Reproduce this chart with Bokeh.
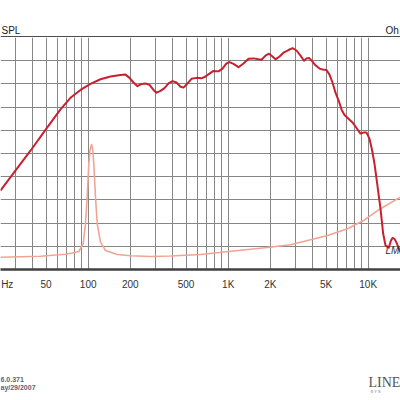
from bokeh.plotting import figure
from bokeh.models import Range1d, FixedTicker, Grid, Label, Span, CustomJSTickFormatter
from bokeh.layouts import column
from bokeh.embed import file_html
from bokeh.resources import INLINE

# SPL response (Hz, dB SPL)
spl_freq = [23.6, 30.2, 38.7, 49.5, 63.4, 74.7, 88.1, 103.8, 122.4, 144.3, 170.1, 184.7, 197.2,
            210.6, 225.0, 240.2, 256.6, 274.0, 292.7, 307.4, 328.4, 350.6, 374.6, 400.0, 427.2,
            456.2, 479.3, 512.0, 546.9, 593.5, 644.5, 688.2, 735.2, 785.1, 852.3, 910.4, 972.3,
            1021, 1091, 1184, 1286, 1396, 1516, 1646, 1729, 1847, 1956, 2072, 2177, 2325, 2503,
            2696, 2879, 3075, 3284, 3478, 3624, 3777, 4000, 4202, 4488, 4715, 5036, 5290, 5557,
            5840, 6185, 6445, 6770, 7232, 7724, 8251, 8809, 9256, 9723, 10214, 10679, 11088,
            11592, 12240, 12796, 13288, 14030, 14546, 14909, 15408, 15924, 16457, 17007, 17400]
spl_db = [67.0, 71.3, 75.6, 80.1, 84.5, 87.0, 88.7, 90.0, 91.0, 91.6, 91.9, 92.0, 91.3,
          90.3, 89.5, 90.0, 90.1, 89.8, 88.7, 88.1, 88.5, 89.1, 90.1, 90.6, 90.3,
          89.4, 89.2, 90.1, 91.1, 91.3, 91.2, 91.6, 92.2, 92.8, 92.7, 93.3, 94.4,
          94.7, 94.3, 93.6, 94.4, 95.4, 95.5, 95.3, 95.2, 96.1, 96.5, 95.9, 95.3, 95.9, 96.8,
          97.3, 97.7, 97.2, 96.1, 95.0, 95.5, 95.6, 94.8, 94.0, 93.3, 93.1, 93.0, 92.0, 90.3,
          88.1, 86.2, 84.5, 83.3, 82.5, 81.7, 80.5, 79.3, 79.5, 79.5, 78.2, 75.6, 72.8,
          68.5, 63.1, 57.7, 55.2, 54.7, 56.25, 56.8, 56.6, 55.8, 54.7, 53.7, 52.8]

# Impedance (Hz, Ohm)
imp_freq = [23.6, 32.85, 45.6, 58.4, 68.8, 77.2, 85.66, 92.1, 95.6, 98.3, 101.0, 103.0, 105.6,
            107.8, 109.6, 112.7, 116.0, 122.4, 132.9, 161.1, 200.5, 278.6, 387.1, 634.1, 1091,
            1908, 2786, 3685, 5120, 7114, 9256, 12240, 17007]
imp_ohm = [5.30, 5.47, 5.69, 6.25, 6.55, 7.11, 7.76, 11.2, 19.8, 31.2, 45.6, 51.3, 53.9,
           51.7, 45.6, 31.2, 19.7, 11.8, 8.19, 6.47, 5.91, 5.60, 5.82, 6.47, 7.97,
           9.48, 10.65, 12.5, 14.66, 17.54, 21.1, 26.2, 31.2]

# Frequency axis (first tick carries the cropped "Hz" unit caption)
tick_freqs = [26.4, 50, 100, 200, 500, 1000, 2000, 5000, 10000]
grid_freqs = [20, 30, 40, 50, 60, 70, 80, 90, 100, 200, 300, 400, 500, 600, 700, 800, 900,
              1000, 2000, 3000, 4000, 5000, 6000, 7000, 8000, 9000, 10000, 20000]
db_grid = [55, 60, 65, 70, 75, 80, 85, 90, 95]

F_LO, F_HI = 23.63, 17010
DB_LO, DB_HI = 50, 100
W = 400
TOP_H, MAIN_H, BOT_H = 37, 300, 63

font = "Liberation Sans"
grid_color = "#868686"


def strip(height, y0):
    f = figure(width=W, height=height, x_range=Range1d(0, W), y_range=Range1d(y0 + height, y0),
               x_axis_location=None, y_axis_location=None, output_backend="svg",
               toolbar_location=None, min_border=0)
    f.outline_line_color = None
    f.xgrid.visible = False
    f.ygrid.visible = False
    f.background_fill_color = "white"
    f.border_fill_color = "white"
    return f


# --- top strip: unit captions (cropped as in the source) and top border line
top = strip(TOP_H, 0)
top.add_layout(Label(x=1, y=30, text="SPL", text_align="left", text_baseline="middle",
                     text_font=font, text_font_size="10px", text_color="#222222"))
top.add_layout(Label(x=385, y=30, text="Oh", text_align="left", text_baseline="middle",
                     text_font=font, text_font_size="10px", text_color="#222222"))
top.add_layout(Span(location=36.4, dimension="width", line_color="#111111", line_width=1.4))

# --- main chart
p = figure(width=W, height=MAIN_H, x_axis_type="log",
           x_range=Range1d(F_LO, F_HI), y_range=Range1d(DB_LO, DB_HI),
           y_axis_location=None, output_backend="svg", toolbar_location=None,
           min_border_left=0, min_border_right=0, min_border_top=0, min_border_bottom=68)
p.extra_y_ranges = {"ohm": Range1d(0, 100)}
p.outline_line_color = None
p.background_fill_color = "white"
p.border_fill_color = "white"

p.xgrid.ticker = FixedTicker(ticks=grid_freqs)
p.xgrid.grid_line_color = grid_color
p.xgrid.grid_line_width = 1
p.add_layout(Grid(dimension=1, ticker=FixedTicker(ticks=db_grid),
                  grid_line_color=grid_color, grid_line_width=1))

ax = p.xaxis[0]
ax.ticker = FixedTicker(ticks=tick_freqs)
ax.formatter = CustomJSTickFormatter(
    code="if (tick < 30) { return 'Hz'; } return tick >= 1000 ? (tick/1000) + 'K' : tick.toFixed(0);")
ax.major_tick_line_color = None
ax.minor_tick_line_color = None
ax.axis_line_color = "#404040"
ax.axis_line_width = 2.5
ax.major_label_standoff = 3
ax.major_label_text_font = font
ax.major_label_text_font_size = "10px"
ax.major_label_text_color = "#333333"

p.line(imp_freq, imp_ohm, y_range_name="ohm", line_color="#f2a494", line_width=1.6,
       line_join="round")
p.line(spl_freq, spl_db, line_color="#c8202f", line_width=2, line_join="round")

p.add_layout(Label(x=13300, y=54.0, text="LM", text_align="left", text_baseline="middle",
                   text_font=font, text_font_size="10px", text_font_style="italic",
                   text_color="#333333"))

# --- bottom strip: version / date / logo (cropped as in the source)
bot = strip(BOT_H, TOP_H + MAIN_H)
bot.add_layout(Label(x=0, y=379, text="6.0.371", text_align="left",
                     text_baseline="middle", text_font=font, text_font_size="7px",
                     text_font_style="bold", text_color="#56637f"))
bot.add_layout(Label(x=0, y=387, text="ay/29/2007", text_align="left",
                     text_baseline="middle", text_font=font, text_font_size="7px",
                     text_font_style="bold", text_color="#56637f"))
bot.add_layout(Label(x=368, y=382, text="LINE", text_align="left", text_baseline="middle",
                     text_font="Liberation Serif", text_font_size="14px", text_color="#555555"))
bot.add_layout(Label(x=370, y=391, text="S  Y  S", text_align="left",
                     text_baseline="middle", text_font=font, text_font_size="4px",
                     text_color="#777777"))

layout = column(top, p, bot, spacing=0)
open("out.html", "w").write(file_html(layout, INLINE))
